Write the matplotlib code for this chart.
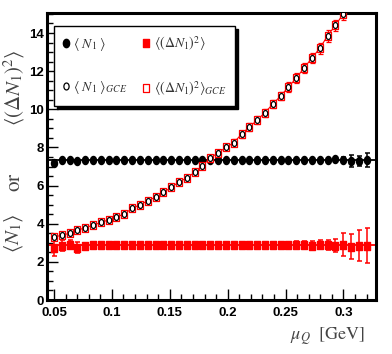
import numpy as np
import matplotlib.pyplot as plt
from matplotlib.path import Path
from matplotlib.transforms import Affine2D
from matplotlib.lines import Line2D
from matplotlib.ticker import MultipleLocator, FormatStrFormatter

plt.rcParams['mathtext.fontset'] = 'stix'

# mu_Q grid [GeV]
mu = np.linspace(0.05, 0.32, 41)

# <N1>
n1 = [7.2, 7.35, 7.35, 7.3, 7.35, 7.35, 7.35, 7.35, 7.35, 7.35,
      7.35, 7.35, 7.35, 7.35, 7.35, 7.35, 7.35, 7.35, 7.35, 7.35,
      7.35, 7.35, 7.35, 7.35, 7.35, 7.35, 7.35, 7.35, 7.35, 7.35,
      7.35, 7.35, 7.35, 7.35, 7.35, 7.35, 7.4, 7.35, 7.3, 7.3, 7.35]
n1_err = [0.15, 0.08, 0.08, 0.1, 0.08, 0.08, 0.08, 0.08, 0.08, 0.08,
          0.08, 0.08, 0.08, 0.08, 0.08, 0.08, 0.08, 0.08, 0.08, 0.08,
          0.08, 0.08, 0.08, 0.08, 0.08, 0.08, 0.08, 0.08, 0.08, 0.08,
          0.08, 0.08, 0.08, 0.08, 0.1, 0.1, 0.12, 0.15, 0.3, 0.25, 0.35]

# <(dN1)^2>
dn2 = [2.75, 2.85, 2.9, 2.75, 2.85, 2.9, 2.88, 2.88, 2.9, 2.88,
       2.88, 2.88, 2.88, 2.88, 2.88, 2.88, 2.88, 2.88, 2.88, 2.88,
       2.88, 2.88, 2.88, 2.88, 2.88, 2.88, 2.88, 2.88, 2.88, 2.88,
       2.88, 2.88, 2.88, 2.85, 2.9, 2.88, 2.85, 2.9, 2.8, 2.85, 2.85]
dn2_err = [0.45, 0.3, 0.25, 0.3, 0.15, 0.15, 0.15, 0.15, 0.15, 0.15,
           0.15, 0.15, 0.15, 0.15, 0.15, 0.15, 0.15, 0.15, 0.15, 0.15,
           0.15, 0.15, 0.15, 0.15, 0.15, 0.15, 0.15, 0.15, 0.15, 0.18,
           0.18, 0.2, 0.2, 0.22, 0.25, 0.25, 0.35, 0.6, 0.65, 0.8, 0.9]

# GCE (<N1>_GCE = <(dN1)^2>_GCE)
gce = [3.3, 3.4, 3.5, 3.65, 3.8, 3.92, 4.07, 4.2, 4.35, 4.52,
       4.8, 5.0, 5.2, 5.4, 5.65, 5.9, 6.2, 6.4, 6.7, 7.05,
       7.45, 7.72, 8.0, 8.25, 8.7, 9.07, 9.44, 9.83, 10.28, 10.7,
       11.17, 11.64, 12.17, 12.69, 13.2, 13.85, 14.4, 15.0, 15.6, 16.2, 16.8]
gce_err = [0.05, 0.05, 0.05, 0.06, 0.06, 0.07, 0.07, 0.08, 0.08, 0.09,
           0.09, 0.1, 0.1, 0.11, 0.11, 0.12, 0.12, 0.13, 0.13, 0.14,
           0.15, 0.15, 0.16, 0.17, 0.18, 0.19, 0.2, 0.21, 0.22, 0.23,
           0.24, 0.25, 0.26, 0.27, 0.28, 0.3, 0.3, 0.32, 0.33, 0.35, 0.36]

n1_fit = 7.35
dn2_fit = 2.88

RED = '#ff0000'

# ROOT-like markers, a bit taller than wide
ellipse = Path.unit_circle().transformed(Affine2D().scale(0.75, 1.0))
box = Path.unit_rectangle().transformed(Affine2D().translate(-0.5, -0.5).scale(0.75, 1.0))

fig = plt.figure(figsize=(3.92, 3.54), dpi=100)
ax = fig.add_axes([0.1199, 0.1525, 0.8391, 0.8108])

ax.axhline(n1_fit, color='black', lw=1.3, zorder=2)
ax.axhline(dn2_fit, color=RED, lw=1.3, zorder=2)
ax.plot(mu, gce, color=RED, lw=0.8, zorder=2)

ax.errorbar(mu, dn2, yerr=dn2_err, fmt='none', ecolor=RED, elinewidth=1.1, capsize=1.8, capthick=1.1, zorder=3)
ax.plot(mu, dn2, ls='none', marker=box, ms=5.2, color=RED, zorder=4)

ax.errorbar(mu, n1, yerr=n1_err, fmt='none', ecolor='black', elinewidth=1.1, capsize=1.8, capthick=1.1, zorder=3)
ax.plot(mu, n1, ls='none', marker=ellipse, ms=5.8, color='black', zorder=4)

ax.errorbar(mu, gce, yerr=gce_err, fmt='none', ecolor=RED, elinewidth=0.9, capsize=1.8, capthick=0.9, zorder=5)
ax.plot(mu, gce, ls='none', marker=box, ms=5.8, mfc='white', mec=RED, mew=0.9, zorder=5)
ax.plot(mu, gce, ls='none', marker=ellipse, ms=4.3, mfc='none', mec='black', mew=0.9, zorder=6)

ax.set_xlim(0.044, 0.328)
ax.set_ylim(0, 15.05)
ax.xaxis.set_major_locator(MultipleLocator(0.05))
ax.xaxis.set_minor_locator(MultipleLocator(0.01))
ax.xaxis.set_major_formatter(FormatStrFormatter('%g'))
ax.yaxis.set_major_locator(MultipleLocator(2))
ax.yaxis.set_minor_locator(MultipleLocator(0.5))
ax.tick_params(which='both', direction='in', top=False, right=False, width=1.0)
ax.tick_params(which='major', length=8)
ax.tick_params(which='minor', length=4)
ax.tick_params(axis='x', pad=5)
ax.tick_params(axis='y', pad=2)
for lab in ax.get_xticklabels() + ax.get_yticklabels():
    lab.set_fontfamily('Liberation Sans')
    lab.set_fontweight('bold')
    lab.set_fontsize(9.5)
for s in ax.spines.values():
    s.set_linewidth(2.2)

# legend
handles = [
    Line2D([], [], ls='none', marker=ellipse, ms=6, color='black'),
    Line2D([], [], ls='none', marker=ellipse, ms=5, mfc='none', mec='black', mew=0.9),
    Line2D([], [], ls='none', marker=box, ms=6, color=RED),
    Line2D([], [], ls='none', marker=box, ms=6, mfc='white', mec=RED, mew=0.9),
]
labels = [r'$\langle\ N_1\ \rangle$', r'$\langle\ N_1\ \rangle_{GCE}$',
          r'$\langle(\Delta N_1)^2\rangle$', r'$\langle(\Delta N_1)^2\rangle_{GCE}$']
leg = ax.legend(handles, labels, ncol=2, loc='upper left', bbox_to_anchor=(0.021, 0.955),
                fontsize=10, frameon=True, fancybox=False, edgecolor='black',
                handlelength=0.5, handletextpad=0.3, columnspacing=1.1,
                labelspacing=1.85, borderpad=0.6, borderaxespad=0,
                shadow={'color': 'black', 'alpha': 1.0, 'ox': 2, 'oy': -2})
leg.get_frame().set_linewidth(1.0)
for t in leg.get_texts():
    t.set_color('#333333')

# axis titles
txt = dict(color='#444444', fontsize=15, rotation=90, ha='center', va='center')
fig.text(14 / 392, 1 - 233 / 354, r'$\langle N_1\rangle$', **txt)
fig.text(14 / 392, 1 - 182 / 354, r'$\mathrm{or}$', **txt)
fig.text(14 / 392, 1 - 88 / 354, r'$\langle(\Delta N_1)^2\rangle$', **txt)
fig.text(365 / 392, 1 - 336 / 354, r'$\mu_Q\ \ \mathrm{[GeV]}$', color='#444444',
         fontsize=13, ha='right', va='center')

fig.savefig('out.png', dpi=100)
